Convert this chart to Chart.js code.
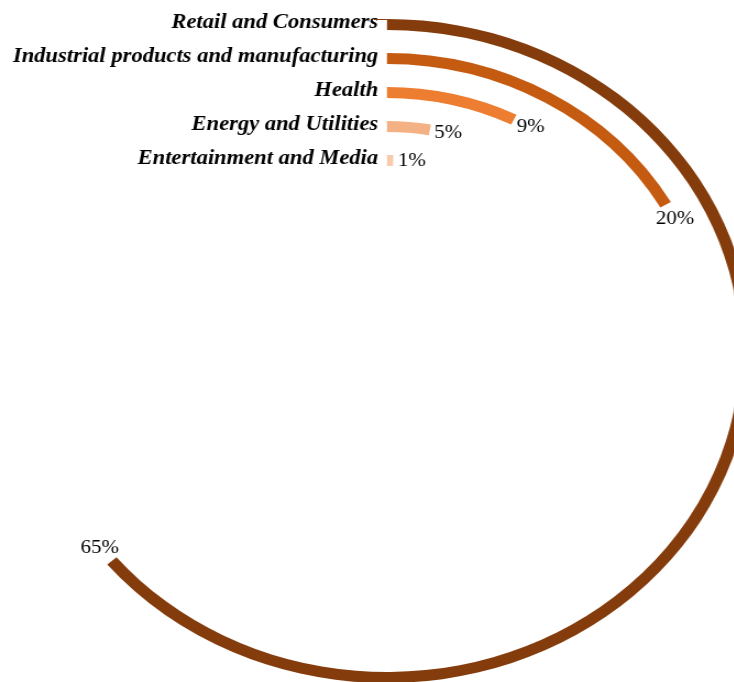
<!DOCTYPE html>
<html>
<head>
<meta charset="utf-8">
<script src="https://cdn.jsdelivr.net/npm/chart.js@4.4.0/dist/chart.umd.min.js"></script>
<style>
  html, body { margin: 0; padding: 0; background: #fff; overflow: hidden; width: 734px; height: 682px; }
  /* the reference is stretched horizontally, so the whole chart is too */
  #wrap { position: absolute; left: 0; top: 0; width: 704px; height: 704px; transform: scaleX(1.1); transform-origin: 0 0; }
</style>
</head>
<body>
<div id="wrap"><canvas id="chart" width="704" height="704" style="width:704px;height:704px"></canvas></div>
<script>
const categories = ['Retail and Consumers', 'Industrial products and manufacturing', 'Health', 'Energy and Utilities', 'Entertainment and Media'];
const shares = [65, 20, 9, 5, 1];            // printed percentages
const arcDegrees = [230, 60, 26.5, 10, 1.7]; // sweep of each ring as drawn
const ringColors = ['#843C0C', '#C55A11', '#ED7D31', '#F4B183', '#F8CBAD'];

const clear = 'rgba(0,0,0,0)';
const datasets = [];
categories.forEach((name, i) => {
  if (i > 0) {
    // spacer ring between bars
    datasets.push({ data: [1], backgroundColor: [clear], weight: 23 });
  }
  datasets.push({
    label: name,
    data: [arcDegrees[i], 360 - arcDegrees[i]],
    backgroundColor: [ringColors[i], clear],
    weight: 11
  });
});

const ringLabels = {
  id: 'ringLabels',
  afterDatasetsDraw(chart) {
    const ctx = chart.ctx;
    ctx.save();
    categories.forEach((name, i) => {
      const arc = chart.getDatasetMeta(i * 2).data[0];
      const r = (arc.innerRadius + arc.outerRadius) / 2;
      ctx.fillStyle = '#000';
      ctx.font = 'italic bold 20.5px "Liberation Serif", "Times New Roman", serif';
      ctx.textAlign = 'right';
      ctx.textBaseline = 'alphabetic';
      ctx.fillText(name, arc.x - 8, arc.y - r + 3);

      const a = arc.endAngle;
      const ex = arc.x + r * Math.cos(a);
      const ey = arc.y + r * Math.sin(a);
      ctx.font = '19px "Liberation Serif", "Times New Roman", serif';
      ctx.textAlign = 'center';
      ctx.textBaseline = 'middle';
      ctx.fillText(shares[i] + '%', ex - Math.sin(a) * 17, ey + Math.cos(a) * 17);
    });
    // small leader line on the outer ring
    const outer = chart.getDatasetMeta(0).data[0];
    ctx.strokeStyle = ringColors[0];
    ctx.lineWidth = 1;
    ctx.beginPath();
    ctx.moveTo(outer.x, outer.y - outer.outerRadius + 0.5);
    ctx.lineTo(outer.x - 12, outer.y - outer.outerRadius + 0.5);
    ctx.stroke();
    ctx.restore();
  }
};

new Chart(document.getElementById('chart'), {
  type: 'doughnut',
  data: { labels: ['value', 'rest'], datasets: datasets },
  options: {
    responsive: false,
    animation: false,
    events: [],
    devicePixelRatio: 1,
    cutout: 185,
    rotation: 0,
    circumference: 360,
    borderWidth: 0,
    spacing: 0,
    hoverOffset: 0,
    offset: 0,
    layout: { padding: { left: 19.8, top: 19, right: 20.2, bottom: 21 } },
    plugins: { legend: { display: false }, tooltip: { enabled: false } }
  },
  plugins: [ringLabels]
});
</script>
</body>
</html>
